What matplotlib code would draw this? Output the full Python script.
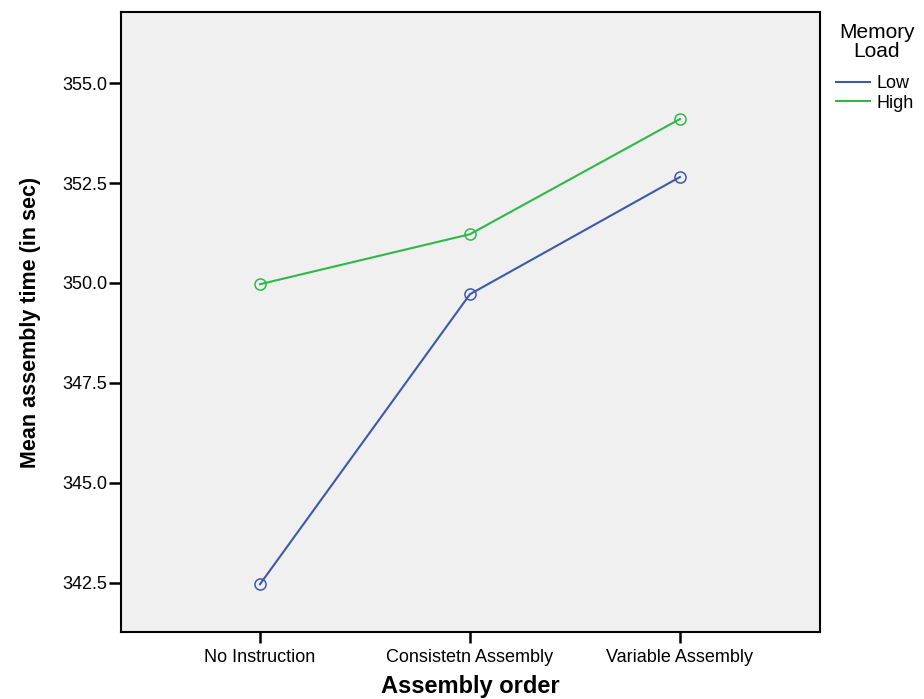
import numpy as np
import matplotlib
matplotlib.use("Agg")
import matplotlib.pyplot as plt

plt.rcParams['font.family'] = ['Liberation Sans', 'DejaVu Sans']

# data
orders = ["No Instruction", "Consistetn Assembly", "Variable Assembly"]
low_load = [342.47, 349.72, 352.65]
high_load = [349.97, 351.22, 354.10]
y_ticks = [342.5, 345.0, 347.5, 350.0, 352.5, 355.0]

blue = "#3E58AC"
green = "#2EB848"

fig = plt.figure(figsize=(9.24, 6.99), dpi=100)
ax = fig.add_axes([0.131, 0.0959, 0.7564, 0.8869])
ax.set_facecolor("#F0F0F0")

x = np.arange(len(orders))
ln_low, = ax.plot(x, low_load, color=blue, lw=1.5, marker="o", ms=8,
                  mfc="none", mec=blue, mew=1.1, label="Low")
ln_high, = ax.plot(x, high_load, color=green, lw=1.5, marker="o", ms=8,
                   mfc="none", mec=green, mew=1.1, label="High")

ax.set_xlim(-0.662, 2.667)
ax.set_ylim(341.275, 356.775)
ax.set_xticks(x)
ax.set_xticklabels(orders, fontsize=13)
ax.set_yticks(y_ticks)
ax.set_yticklabels([f"{v:.1f}" for v in y_ticks], fontsize=13)
ax.tick_params(axis="y", direction="out", length=9, width=1.8, color="black", pad=1)
ax.tick_params(axis="x", direction="out", length=8, width=1.8, color="black", pad=4)

for s in ax.spines.values():
    s.set_linewidth(1.5)
    s.set_color("black")

ax.set_xlabel("Assembly order", fontsize=17, fontweight="bold", labelpad=7)
ax.set_ylabel("Mean assembly time (in sec)", fontsize=15.5, fontweight="bold",
              labelpad=15)

fig.text(0.949, 1 - 42 / 699, "Memory\nLoad", ha="center", va="center",
         fontsize=15, linespacing=1.0)
leg = fig.legend(handles=[ln_low, ln_high], labels=["Low", "High"],
                 loc="upper left", bbox_to_anchor=(836 / 924, 1 - 75 / 699),
                 frameon=False, fontsize=13, handlelength=1.9,
                 handletextpad=0.35, labelspacing=0.15, borderpad=0,
                 borderaxespad=0)
for h in leg.legend_handles:
    h.set_marker("")

fig.savefig("out.png", dpi=100)
